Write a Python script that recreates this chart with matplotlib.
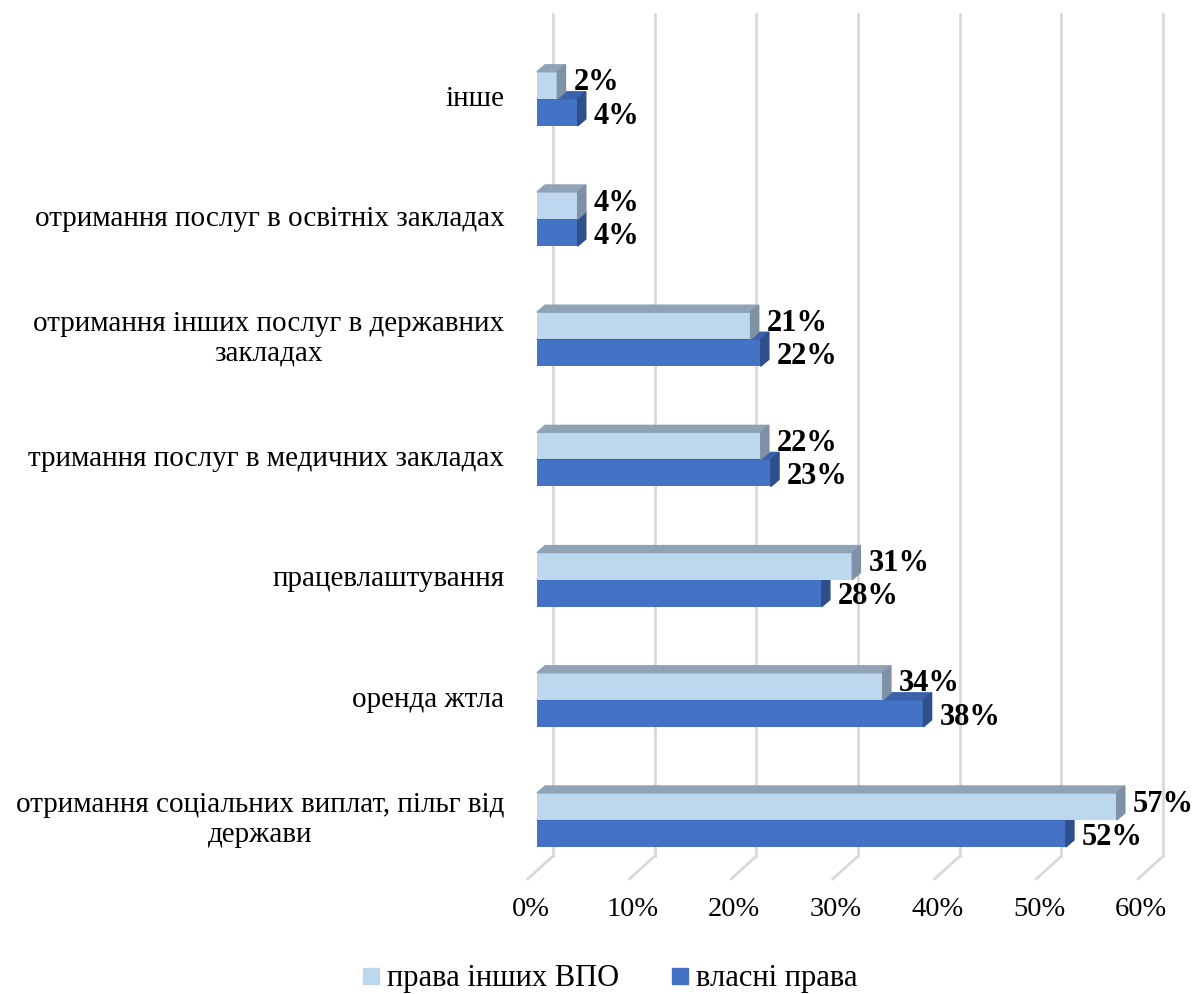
import matplotlib.pyplot as plt
from matplotlib.patches import Polygon

plt.rcParams['font.family'] = ['Liberation Serif', 'DejaVu Serif']

categories = ["отримання соціальних виплат, пільг від\nдержави",
              "оренда жтла",
              "працевлаштування",
              "тримання послуг в медичних закладах",
              "отримання інших послуг в державних\nзакладах",
              "отримання послуг в освітніх закладах",
              "інше"]
others = [57, 34, 31, 22, 21, 4, 2]     # права інших ВПО
own = [52, 38, 28, 23, 22, 4, 4]        # власні права
ticks = [0, 10, 20, 30, 40, 50, 60]
tick_labels = ["0%", "10%", "20%", "30%", "40%", "50%", "60%"]

c_light, c_light_top, c_light_side = "#BDD7EE", "#8FA2B6", "#7E91A5"
c_dark, c_dark_top, c_dark_side = "#4472C4", "#3A62AD", "#2F4F8C"

fig = plt.figure(figsize=(11.96, 9.95), dpi=100)
ax = fig.add_axes([0, 0, 1, 1])
ax.axis("off")
# pixel mapping: 0% front at x=537px, 10.17 px per %; category i centre at y=821-120.2*i px
ax.set_xlim(-537 / 10.17, (1196 - 537) / 10.17)
ax.set_ylim((821 - 995) / 120.2, 821 / 120.2)

h = 0.225      # bar thickness
dx, dy = 0.8, 0.058   # 3d depth offset of bars
gx, top_y, floor_b, floor_f = 1.57, 6.705, -0.3, -0.49

# back wall grid and floor
for t, lab in zip(ticks, tick_labels):
    ax.plot([t + gx, t + gx], [floor_b, top_y], color="#D9D9D9", lw=2, zorder=0)
    ax.plot([t + gx, t - 0.9], [floor_b, floor_f], color="#D9D9D9", lw=2, zorder=0)
    ax.text(t - 0.6, -0.74, lab, ha="center", va="center", fontsize=20.5)


def bar3d(y0, val, front, top, side, z):
    ax.barh(y0, val, height=h, left=0, align="edge", color=front, zorder=z)
    y1 = y0 + h
    ax.add_patch(Polygon([(0, y1), (val, y1), (val + dx, y1 + dy), (dx, y1 + dy)],
                         closed=True, color=top, zorder=z))
    ax.add_patch(Polygon([(val, y0), (val, y1), (val + dx, y1 + dy), (val + dx, y0 + dy)],
                         closed=True, color=side, zorder=z))


for i in range(len(categories)):
    bar3d(i - h, own[i], c_dark, c_dark_top, c_dark_side, 2 + i * 2)
    bar3d(i, others[i], c_light, c_light_top, c_light_side, 3 + i * 2)
    ax.text(others[i] + 1.6, i + 0.14, f"{others[i]}%", ha="left", va="center",
            fontsize=22, fontweight="bold", zorder=20)
    ax.text(own[i] + 1.6, i - 0.135, f"{own[i]}%", ha="left", va="center",
            fontsize=22, fontweight="bold", zorder=20)
    ax.text(-3.2, i + 0.01, categories[i], ha="right", va="center", multialignment="center",
            fontsize=21, linespacing=1.2)

# legend
sq_w, sq_h = 1.57, 0.133
ly = -1.30
for x0, col, txt in [(-17.1, c_light, "права інших ВПО"), (13.27, c_dark, "власні права")]:
    ax.add_patch(Polygon([(x0, ly - sq_h / 2), (x0 + sq_w, ly - sq_h / 2),
                          (x0 + sq_w, ly + sq_h / 2), (x0, ly + sq_h / 2)], color=col))
    ax.text(x0 + sq_w + 0.75, ly - 0.01, txt, ha="left", va="center", fontsize=22)

fig.savefig("out.png", dpi=100)
